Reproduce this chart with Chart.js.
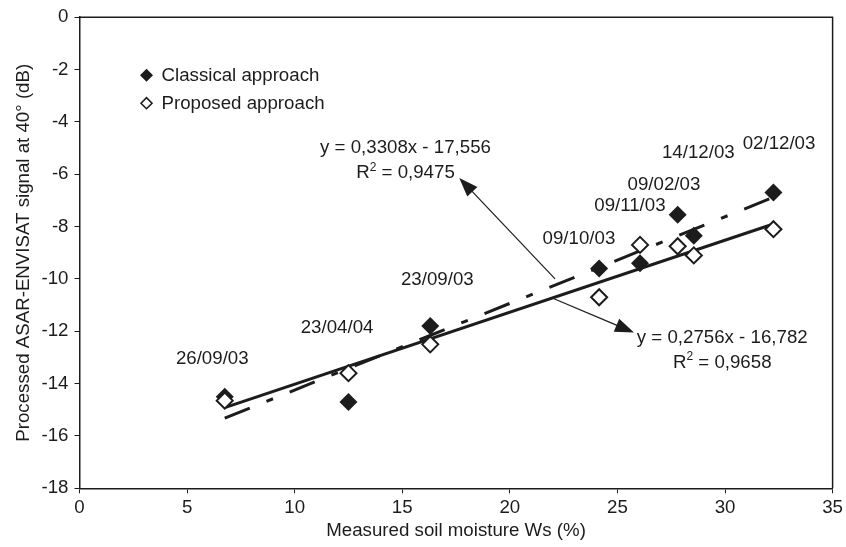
<!DOCTYPE html>
<html>
<head>
<meta charset="utf-8">
<script src="https://cdn.jsdelivr.net/npm/chart.js@4.4.1/dist/chart.umd.min.js"></script>
<style>
  html, body { margin: 0; padding: 0; background: #fff; }
  #wrap { width: 846px; height: 547px; }
</style>
</head>
<body>
<div id="wrap"><canvas id="chart" width="846" height="547"></canvas></div>
<script>
// Measured soil moisture (%) and matching acquisition dates
const moisture = [6.75, 12.5, 16.3, 24.15, 26.05, 27.8, 28.55, 32.25];
const dates = ['26/09/03', '23/04/04', '23/09/03', '09/10/03', '09/11/03', '09/02/03', '14/12/03', '02/12/03'];
// Backscatter (dB) for each approach
const classicalDb = [-14.5, -14.7, -11.8, -9.6, -9.4, -7.55, -8.35, -6.7];
const proposedDb = [-14.65, -13.6, -12.5, -10.7, -8.7, -8.75, -9.1, -8.1];
// Regression lines (end points)
const fitX = [6.75, 32.25];
const classicalFit = [-15.32, -6.88];
const proposedFit = [-14.92, -7.9];
// Axis ticks
const xTicks = [0, 5, 10, 15, 20, 25, 30, 35];
const yTicks = [-18, -16, -14, -12, -10, -8, -6, -4, -2, 0];

const seriesNames = ['Classical approach', 'Proposed approach'];
const classicalEq = ['y = 0,3308x - 17,556', ' = 0,9475'];
const proposedEq = ['y = 0,2756x - 16,782', ' = 0,9658'];

// Where the labels and arrows sit, in data units
const dateLabelPos = [[6.17, -13.07], [11.97, -11.86], [16.63, -10.04], [23.21, -8.45],
                      [25.58, -7.2], [27.16, -6.39], [28.76, -5.2], [32.51, -4.82]];
const classicalEqPos = [15.15, -5.01];
const proposedEqPos = [29.87, -12.26];
const arrows = [[22.1, -10.0, 17.65, -6.14], [22.05, -10.76, 25.77, -12.05]];

const FAMILY = '"Liberation Sans", Arial, sans-serif';
const SIZE = 18.7;
const FONT = SIZE + 'px ' + FAMILY;
const INK = '#1c1c1c';

function toPoints(xs, ys) {
    return xs.map((x, i) => ({ x: x, y: ys[i] }));
}

function diamond(ctx, x, y, r, filled) {
    ctx.beginPath();
    ctx.moveTo(x - r, y);
    ctx.lineTo(x, y - r);
    ctx.lineTo(x + r, y);
    ctx.lineTo(x, y + r);
    ctx.closePath();
    if (filled) {
        ctx.fillStyle = INK;
        ctx.fill();
    } else {
        ctx.fillStyle = '#fff';
        ctx.fill();
        ctx.lineWidth = 1.6;
        ctx.strokeStyle = INK;
        ctx.stroke();
    }
}

// "R" + superscript "2" + rest, centred on cx
function drawR2(ctx, rest, cx, cy) {
    const small = '12px ' + FAMILY;
    ctx.font = FONT;
    const wR = ctx.measureText('R').width;
    const wRest = ctx.measureText(rest).width;
    ctx.font = small;
    const w2 = ctx.measureText('2').width;
    const x0 = cx - (wR + w2 + wRest) / 2;
    ctx.textAlign = 'left';
    ctx.font = FONT;
    ctx.fillText('R', x0, cy);
    ctx.fillText(rest, x0 + wR + w2, cy);
    ctx.font = small;
    ctx.fillText('2', x0 + wR, cy - 6);
    ctx.font = FONT;
    ctx.textAlign = 'center';
}

const extras = {
    id: 'extras',
    afterDatasetsDraw(chart) {
        const ctx = chart.ctx;
        const xs = chart.scales.x;
        const ys = chart.scales.y;
        const area = chart.chartArea;
        ctx.save();

        // frame top and right
        ctx.strokeStyle = INK;
        ctx.lineWidth = 1.5;
        ctx.beginPath();
        ctx.moveTo(area.left, area.top);
        ctx.lineTo(area.right, area.top);
        ctx.lineTo(area.right, area.bottom);
        ctx.stroke();

        ctx.font = FONT;
        ctx.fillStyle = INK;
        ctx.textBaseline = 'middle';

        // date labels
        ctx.textAlign = 'center';
        dates.forEach((d, i) => {
            ctx.fillText(d, xs.getPixelForValue(dateLabelPos[i][0]), ys.getPixelForValue(dateLabelPos[i][1]));
        });

        // regression equations
        [[classicalEq, classicalEqPos], [proposedEq, proposedEqPos]].forEach(([lines, pos]) => {
            const cx = xs.getPixelForValue(pos[0]);
            const cy = ys.getPixelForValue(pos[1]);
            ctx.fillText(lines[0], cx, cy);
            drawR2(ctx, lines[1], cx, cy + 25);
        });

        // arrows
        arrows.forEach(a => {
            const x0 = xs.getPixelForValue(a[0]), y0 = ys.getPixelForValue(a[1]);
            const x1 = xs.getPixelForValue(a[2]), y1 = ys.getPixelForValue(a[3]);
            const ang = Math.atan2(y1 - y0, x1 - x0);
            const head = 19, half = 7;
            ctx.strokeStyle = INK;
            ctx.lineWidth = 1.2;
            ctx.beginPath();
            ctx.moveTo(x0, y0);
            ctx.lineTo(x1 - Math.cos(ang) * head * 0.8, y1 - Math.sin(ang) * head * 0.8);
            ctx.stroke();
            const bx = x1 - Math.cos(ang) * head, by = y1 - Math.sin(ang) * head;
            ctx.beginPath();
            ctx.moveTo(x1, y1);
            ctx.lineTo(bx + Math.sin(ang) * half, by - Math.cos(ang) * half);
            ctx.lineTo(bx - Math.sin(ang) * half, by + Math.cos(ang) * half);
            ctx.closePath();
            ctx.fillStyle = INK;
            ctx.fill();
        });

        // legend
        ctx.textAlign = 'left';
        ctx.fillStyle = INK;
        const lx = area.left + 67, ly = area.top + 58;
        seriesNames.forEach((name, i) => {
            diamond(ctx, lx, ly + i * 28, i === 0 ? 6.5 : 5.5, i === 0);
            ctx.fillStyle = INK;
            ctx.fillText(name, lx + 15, ly + i * 28 + 1);
        });

        ctx.restore();
    }
};

new Chart(document.getElementById('chart'), {
    type: 'scatter',
    data: {
        datasets: [
            {
                label: seriesNames[1],
                data: toPoints(moisture, proposedDb),
                pointStyle: 'rectRot',
                pointRadius: 8,
                backgroundColor: '#fff',
                borderColor: INK,
                borderWidth: 2
            },
            {
                label: seriesNames[0],
                data: toPoints(moisture, classicalDb),
                pointStyle: 'rectRot',
                pointRadius: 9,
                backgroundColor: INK,
                borderColor: INK,
                borderWidth: 0
            },
            {
                label: 'Classical fit',
                data: toPoints(fitX, classicalFit),
                showLine: true,
                pointRadius: 0,
                borderColor: INK,
                borderWidth: 3,
                borderDash: [27, 18, 7, 18],
                borderCapStyle: 'butt'
            },
            {
                label: 'Proposed fit',
                data: toPoints(fitX, proposedFit),
                showLine: true,
                pointRadius: 0,
                borderColor: INK,
                borderWidth: 3
            }
        ]
    },
    options: {
        responsive: false,
        animation: false,
        layout: { padding: { top: 12.7, right: 12, left: 0, bottom: 0 } },
        plugins: {
            legend: { display: false },
            tooltip: { enabled: false }
        },
        scales: {
            x: {
                type: 'linear',
                min: 0,
                max: 35,
                afterBuildTicks: s => { s.ticks = xTicks.map(v => ({ value: v })); },
                afterFit: s => { s.height = 58.7; },
                grid: { drawOnChartArea: false, drawTicks: true, tickLength: 5, color: INK },
                border: { display: true, color: INK, width: 1.5 },
                ticks: { color: INK, font: { family: FAMILY, size: SIZE }, padding: 3, maxRotation: 0 },
                title: {
                    display: true,
                    text: 'Measured soil moisture Ws (%)',
                    color: INK,
                    font: { family: FAMILY, size: SIZE },
                    padding: { top: 0, bottom: 5 }
                }
            },
            y: {
                type: 'linear',
                min: -18,
                max: 0,
                afterBuildTicks: s => { s.ticks = yTicks.map(v => ({ value: v })); },
                afterFit: s => { s.width = 79.5; },
                grid: { drawOnChartArea: false, drawTicks: true, tickLength: 5, color: INK },
                border: { display: true, color: INK, width: 1.5 },
                ticks: { color: INK, font: { family: FAMILY, size: SIZE }, padding: 6 },
                title: {
                    display: true,
                    text: 'Processed ASAR-ENVISAT signal at 40° (dB)',
                    color: INK,
                    font: { family: FAMILY, size: SIZE },
                    padding: { top: 13, bottom: 0 }
                }
            }
        }
    },
    plugins: [extras]
});
</script>
</body>
</html>
